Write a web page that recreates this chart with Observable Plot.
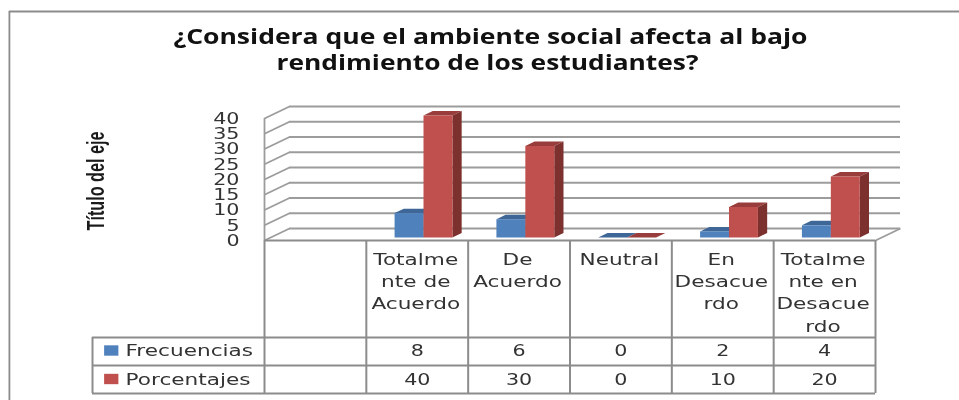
<!DOCTYPE html>
<html><head><meta charset="utf-8">
<script src="https://cdn.jsdelivr.net/npm/d3@7"></script>
<script src="https://cdn.jsdelivr.net/npm/@observablehq/plot@0.6"></script>
<style>
html,body{margin:0;padding:0;background:#fff;overflow:hidden}
svg{display:block;filter:blur(0.45px)}
</style></head><body>
<div id="chart"></div>
<script>
// ---- data ----
const title = ["¿Considera que el ambiente social afecta al bajo", "rendimiento de los estudiantes?"];
const axisTitle = "Título del eje";
const categories = ["Totalme\nnte de\nAcuerdo", "De\nAcuerdo", "Neutral", "En\nDesacue\nrdo", "Totalme\nnte en\nDesacue\nrdo"];
const seriesNames = ["Frecuencias", "Porcentajes"];
const frecuencias = [8, 6, 0, 2, 4];
const porcentajes = [40, 30, 0, 10, 20];
const yTicks = [0, 5, 10, 15, 20, 25, 30, 35, 40];

// ---- look ----
const BLUE = {front: "#4f81bd", top: "#3e6797", side: "#375c87"};
const RED  = {front: "#c0504d", top: "#983d3b", side: "#7d312f"};
const GRID = "#9c9c9c", LINE = "#8c8c8c", INK = "#333";
const FONT = "DejaVu Sans";

// ---- layout, in the chart's own units (x: table columns, y: axis values) ----
const U = 3.05;                    // pixels per axis unit
const nCols = categories.length + 1;   // the table keeps one empty leading column
const depthX = 25 / 101.83, depthY = 12 / U;   // the wall's depth
const barZ0 = 0.25, barZ1 = 0.62;  // bar depth inside the floor
const barW = 0.284;                // one bar's width in columns

const py = p => (240 - p) / U;     // row heights expressed on the y scale
const rowHead = py(337), rowA = py(365), rowB = py(393);
const legendLeft = -1.689;

const face = (id, c, pts) => pts.map(([x, y]) => ({id, c, x, y}));
const at = (x, v, z) => [x + z * depthX, v + z * depthY];

const faces = [];
categories.forEach((_, k) => {
  const cx = k + 1.5;
  [[frecuencias[k], BLUE, cx - barW, "f"], [porcentajes[k], RED, cx, "p"]].forEach(([v, col, x0, s]) => {
    const x1 = x0 + barW, id = s + k;
    faces.push(...face(id + "t", col.top, [at(x0, v, barZ0), at(x1, v, barZ0), at(x1, v, barZ1), at(x0, v, barZ1)]));
    if (v > 0) {
      faces.push(...face(id + "s", col.side, [at(x1, 0, barZ0), at(x1, v, barZ0), at(x1, v, barZ1), at(x1, 0, barZ1)]));
      faces.push(...face(id + "f", col.front, [at(x0, 0, barZ0), at(x1, 0, barZ0), at(x1, v, barZ0), at(x0, v, barZ0)]));
    }
  });
});

// category labels split line by line
const catLines = categories.flatMap((c, k) => c.split("\n").map((t, j) => ({x: k + 1.5, y: py(259 + j * 22.3), t})));
const rowText = [
  ...frecuencias.map((v, k) => ({x: k + 1.5, y: py(350.5), t: String(v)})),
  ...porcentajes.map((v, k) => ({x: k + 1.5, y: py(379), t: String(v)}))
];
const legend = [
  {name: seriesNames[0], color: BLUE.front, y: py(350.5)},
  {name: seriesNames[1], color: RED.front, y: py(379)}
];

const text = (data, o) => Plot.text(data, {fill: INK, fontFamily: FONT, ...o});

const chart = Plot.plot({
  width: 959, height: 400,
  margin: 0,
  x: {type: "linear", domain: [0, nCols], range: [264, 875], axis: null},
  y: {type: "linear", domain: [0, 40], range: [240, 240 - 40 * U], axis: null},
  color: {type: "identity"},
  marks: [
    // outer frame
    Plot.ruleX([0], {x: () => -2.505, y1: py(400), y2: py(11), stroke: LINE, strokeWidth: 1.8}),
    Plot.ruleY([0], {y: () => py(11), x1: -2.505, x2: 6.9, stroke: LINE, strokeWidth: 1.8}),
    // back wall grid
    Plot.ruleY(yTicks, {y: d => d + depthY, x1: depthX, x2: nCols + depthX, stroke: GRID, strokeWidth: 1.8}),
    // side wall grid
    Plot.link(yTicks, {x1: 0, y1: d => d, x2: depthX, y2: d => d + depthY, stroke: GRID, strokeWidth: 1.8}),
    Plot.ruleX([0], {y1: 0, y2: 40, stroke: GRID, strokeWidth: 1.8}),
    // floor's right edge
    Plot.link([0], {x1: nCols, y1: 0, x2: nCols + depthX, y2: depthY, stroke: GRID, strokeWidth: 1.8}),
    // bars
    Plot.line(faces, {x: "x", y: "y", z: "id", fill: "c", stroke: "none", curve: "linear-closed"}),
    // table
    Plot.ruleY([0], {x1: 0, x2: nCols, stroke: LINE, strokeWidth: 2}),
    Plot.ruleY([rowHead, rowA, rowB], {x1: legendLeft, x2: nCols, stroke: LINE, strokeWidth: 2}),
    Plot.ruleX([0, 1, 2, 3, 4, 5, 6], {y1: 0, y2: rowB, stroke: LINE, strokeWidth: 2}),
    Plot.ruleX([legendLeft], {y1: rowHead, y2: rowB, stroke: LINE, strokeWidth: 2}),
    Plot.rect(legend, {x1: -1.57, x2: -1.43, y1: d => d.y - 1.7, y2: d => d.y + 1.7, fill: "color"}),
    text(legend, {x: -1.365, y: "y", text: "name", textAnchor: "start", fontSize: 16.5, className: "stretch"}),
    text(catLines, {x: "x", y: "y", text: "t", dx: -1.5, fontSize: 16.5, className: "stretch"}),
    text(rowText, {x: "x", y: "y", text: "t", fontSize: 16.5, className: "digits"}),
    // value axis
    text(yTicks, {x: 0, y: d => d, text: d => String(d), textAnchor: "end", dx: -25, fontSize: 16.5, className: "digits"}),
    // titles
    text([axisTitle], {frameAnchor: "top-left", dx: 87, dy: 230, rotate: -90, text: d => d, fontFamily: "Liberation Sans", fontSize: 23, fontWeight: 700, fill: "#1a1a1a", className: "axistitle"}),
    text([title[0]], {frameAnchor: "top-left", dx: 490, dy: 29, text: d => d, textAnchor: "middle", fontFamily: "Open Sans", fontSize: 20.5, fontWeight: 700, fill: "#111", className: "title1"}),
    text([title[1]], {frameAnchor: "top-left", dx: 487, dy: 55, text: d => d, textAnchor: "middle", fontFamily: "Open Sans", fontSize: 20.5, fontWeight: 700, fill: "#111", className: "title2"})
  ]
});
document.getElementById("chart").append(chart);

// the reference is stretched sideways: widen the glyphs to its proportions
const fit = (sel, fn) => d3.select(chart).selectAll(sel).selectAll("text").each(function () {
  this.setAttribute("textLength", fn(this.getComputedTextLength()));
  this.setAttribute("lengthAdjust", "spacingAndGlyphs");
});
fit(".stretch", w => w * 1.31);
fit(".digits", w => w * 1.25);
fit(".title1", () => 634);
fit(".title2", () => 422);
fit(".axistitle", () => 99);
</script>
</body></html>
